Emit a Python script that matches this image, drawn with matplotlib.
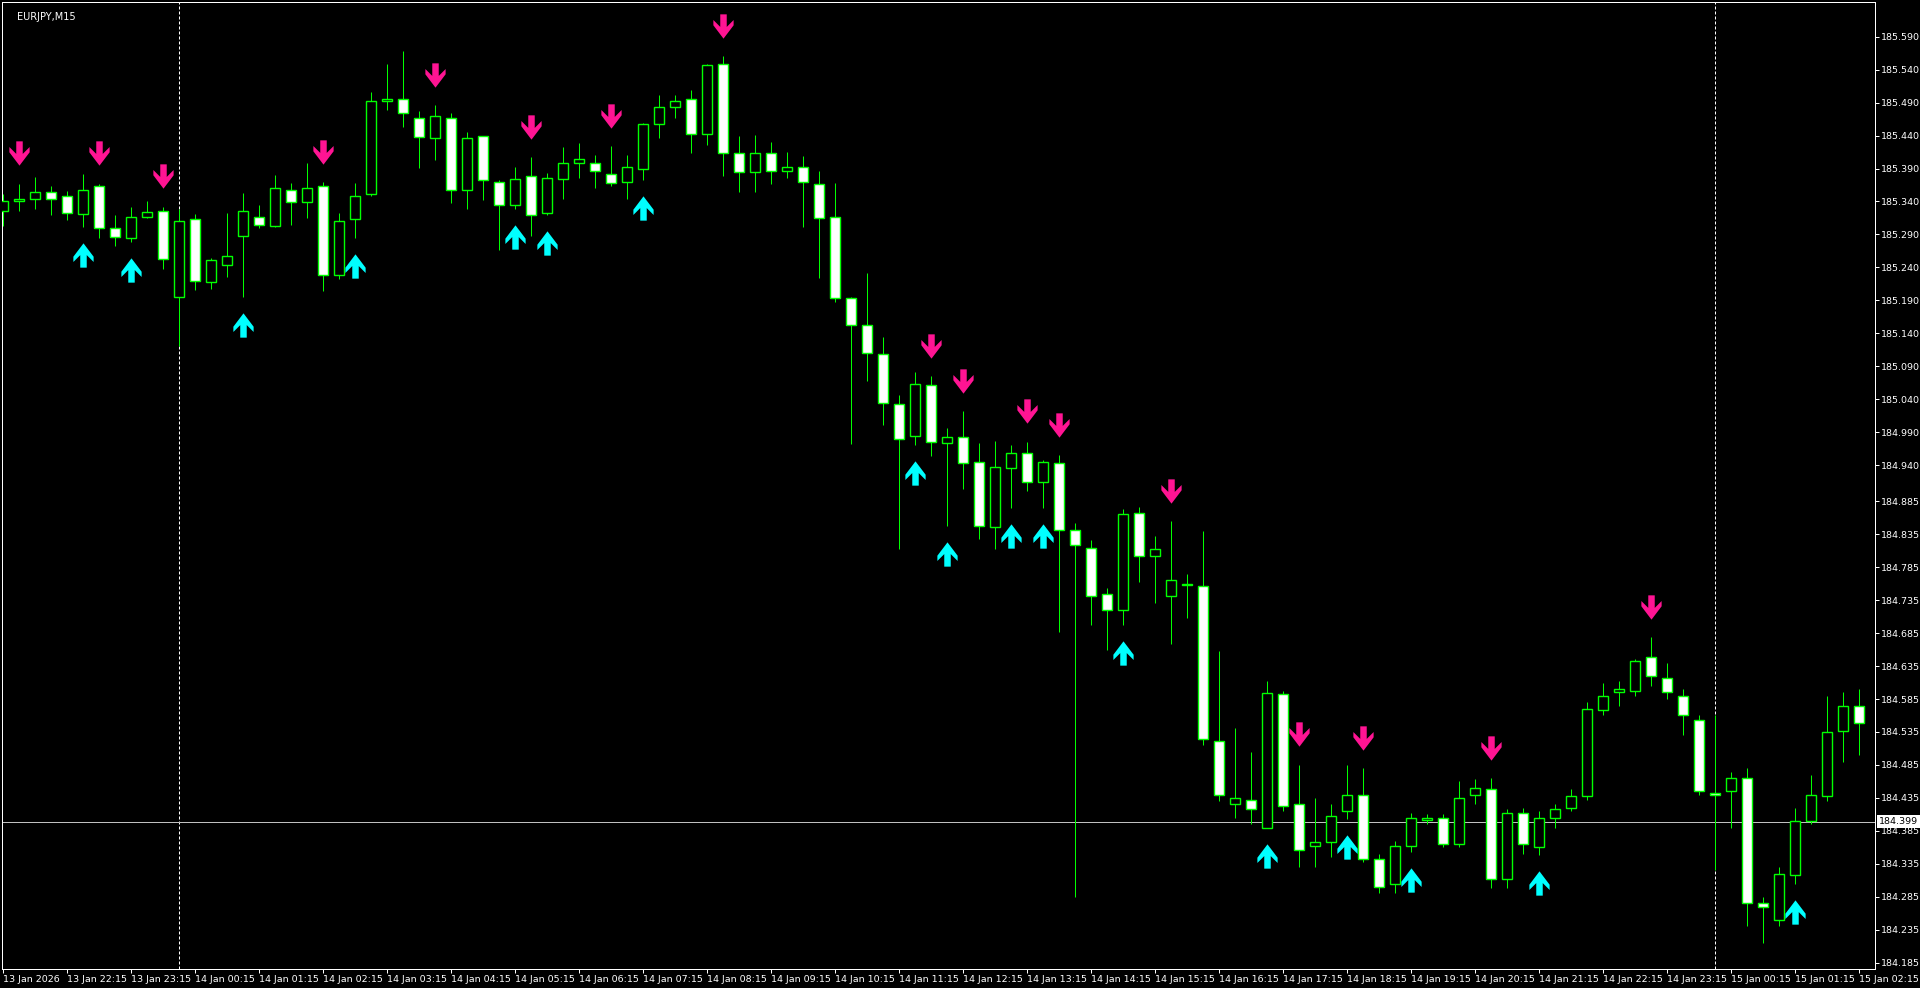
import matplotlib
matplotlib.use('Agg')
import matplotlib.pyplot as plt
import matplotlib.transforms as mtransforms
from matplotlib.patches import Rectangle
from matplotlib.path import Path
import pandas as pd

# Daten
symbol = "EURJPY,M15"
bar_times = pd.date_range("2026-01-13 21:15", periods=117, freq="15min")

opens = [185.326, 185.340, 185.343, 185.355, 185.349, 185.321, 185.363, 185.299, 185.284, 185.316,
         185.325, 185.195, 185.313, 185.218, 185.243, 185.287, 185.316, 185.303, 185.358, 185.339,
         185.363, 185.228, 185.313, 185.352, 185.493, 185.496, 185.466, 185.437, 185.466, 185.358,
         185.439, 185.370, 185.334, 185.378, 185.323, 185.374, 185.399, 185.399, 185.381, 185.369,
         185.390, 185.457, 185.483, 185.495, 185.443, 185.549, 185.413, 185.385, 185.414, 185.387,
         185.393, 185.366, 185.316, 185.193, 185.152, 185.108, 185.032, 184.984, 185.061, 184.973,
         184.982, 184.944, 184.846, 184.935, 184.959, 184.914, 184.943, 184.841, 184.814, 184.744,
         184.720, 184.867, 184.802, 184.741, 184.759, 184.757, 184.522, 184.425, 184.432, 184.390,
         184.592, 184.426, 184.362, 184.368, 184.415, 184.440, 184.342, 184.305, 184.362, 184.402,
         184.404, 184.365, 184.440, 184.449, 184.312, 184.412, 184.360, 184.405, 184.420, 184.438,
         184.568, 184.595, 184.597, 184.648, 184.617, 184.590, 184.553, 184.442, 184.445, 184.465,
         184.276, 184.250, 184.318, 184.400, 184.438, 184.536, 184.575]
highs = [185.352, 185.367, 185.377, 185.364, 185.356, 185.382, 185.367, 185.320, 185.332, 185.341,
         185.332, 185.329, 185.321, 185.254, 185.323, 185.353, 185.335, 185.380, 185.368, 185.398,
         185.369, 185.322, 185.368, 185.506, 185.549, 185.568, 185.477, 185.486, 185.475, 185.446,
         185.440, 185.373, 185.392, 185.407, 185.383, 185.423, 185.429, 185.411, 185.424, 185.411,
         185.459, 185.501, 185.501, 185.509, 185.548, 185.560, 185.440, 185.441, 185.430, 185.415,
         185.409, 185.386, 185.368, 185.195, 185.232, 185.134, 185.046, 185.081, 185.075, 184.997,
         185.022, 184.973, 184.976, 184.970, 184.975, 184.948, 184.955, 184.852, 184.826, 184.754,
         184.873, 184.876, 184.833, 184.855, 184.775, 184.840, 184.658, 184.541, 184.505, 184.612,
         184.597, 184.485, 184.435, 184.425, 184.485, 184.480, 184.350, 184.370, 184.412, 184.410,
         184.410, 184.460, 184.464, 184.465, 184.418, 184.420, 184.415, 184.425, 184.448, 184.580,
         184.610, 184.612, 184.645, 184.679, 184.640, 184.600, 184.560, 184.560, 184.475, 184.480,
         184.285, 184.330, 184.420, 184.470, 184.590, 184.595, 184.600]
lows = [185.303, 185.325, 185.328, 185.319, 185.312, 185.302, 185.284, 185.273, 185.278, 185.315,
        185.237, 185.120, 185.205, 185.207, 185.226, 185.195, 185.299, 185.301, 185.305, 185.315,
        185.204, 185.222, 185.285, 185.349, 185.479, 185.453, 185.391, 185.403, 185.337, 185.329,
        185.342, 185.267, 185.329, 185.287, 185.320, 185.343, 185.375, 185.361, 185.364, 185.343,
        185.373, 185.437, 185.466, 185.413, 185.425, 185.378, 185.355, 185.355, 185.367, 185.375,
        185.302, 185.224, 185.188, 184.972, 185.067, 185.001, 184.813, 184.971, 184.954, 184.847,
        184.904, 184.828, 184.813, 184.875, 184.901, 184.875, 184.687, 184.285, 184.698, 184.660,
        184.698, 184.763, 184.731, 184.669, 184.708, 184.515, 184.430, 184.405, 184.395, 184.390,
        184.415, 184.330, 184.330, 184.345, 184.403, 184.338, 184.290, 184.290, 184.353, 184.395,
        184.360, 184.360, 184.425, 184.298, 184.298, 184.350, 184.348, 184.390, 184.415, 184.432,
        184.560, 184.575, 184.590, 184.605, 184.585, 184.530, 184.440, 184.325, 184.390, 184.240,
        184.215, 184.240, 184.305, 184.395, 184.430, 184.490, 184.500]
closes = [185.341, 185.344, 185.354, 185.343, 185.322, 185.357, 185.299, 185.286, 185.316, 185.324,
          185.252, 185.311, 185.220, 185.251, 185.258, 185.325, 185.304, 185.360, 185.339, 185.361,
          185.228, 185.310, 185.349, 185.493, 185.496, 185.475, 185.438, 185.469, 185.357, 185.437,
          185.372, 185.334, 185.374, 185.320, 185.375, 185.399, 185.405, 185.387, 185.368, 185.392,
          185.457, 185.484, 185.493, 185.442, 185.547, 185.413, 185.385, 185.413, 185.387, 185.392,
          185.369, 185.315, 185.193, 185.152, 185.110, 185.034, 184.979, 185.063, 184.975, 184.982,
          184.943, 184.847, 184.937, 184.959, 184.914, 184.944, 184.842, 184.818, 184.742, 184.720,
          184.865, 184.802, 184.812, 184.765, 184.758, 184.524, 184.439, 184.435, 184.418, 184.594,
          184.423, 184.356, 184.368, 184.408, 184.440, 184.342, 184.300, 184.362, 184.405, 184.404,
          184.365, 184.435, 184.450, 184.312, 184.412, 184.365, 184.405, 184.418, 184.438, 184.570,
          184.590, 184.600, 184.642, 184.620, 184.595, 184.560, 184.445, 184.440, 184.465, 184.275,
          184.270, 184.320, 184.400, 184.440, 184.535, 184.575, 184.548]

# Signale (Index der Kerze)
sell_bars = [1, 6, 10, 20, 27, 33, 38, 45, 58, 60, 64, 66, 73, 81, 85, 93, 103]
buy_bars = [5, 8, 15, 22, 32, 34, 40, 57, 59, 63, 65, 70, 79, 84, 88, 96, 112]

hline_price = 184.399
price_ticks = [185.590, 185.540, 185.490, 185.440, 185.390, 185.340, 185.290, 185.240, 185.190,
               185.140, 185.090, 185.040, 184.990, 184.940, 184.885, 184.835, 184.785, 184.735,
               184.685, 184.635, 184.585, 184.535, 184.485, 184.435, 184.385, 184.335, 184.285,
               184.235, 184.185]

# Barvy / styl
bg = 'black'
candle_col = '#00FF00'
sell_col = '#FF1493'
buy_col = '#00FFFF'
font = 'DejaVu Sans'

W, H = 1920, 988
fig = plt.figure(figsize=(W / 100, H / 100), dpi=100, facecolor=bg)
ax = fig.add_axes([2 / W, 19 / H, 1873 / W, 967 / H], facecolor=bg)

px = 0.72  # 1 pixel v bodech
body_w = 0.625

for i in range(len(opens)):
    o, h, l, c = opens[i], highs[i], lows[i], closes[i]
    ax.plot([i, i], [l, h], color=candle_col, lw=px, zorder=2, solid_capstyle='butt')
    if abs(c - o) < 0.0005:
        ax.plot([i - body_w / 2, i + body_w / 2], [o, o], color=candle_col, lw=px * 2, zorder=3)
        continue
    fill = 'white' if c < o else 'black'
    ax.add_patch(Rectangle((i - body_w / 2, min(o, c)), body_w, abs(c - o),
                           facecolor=fill, edgecolor=candle_col, lw=px * 1.4, zorder=3))

# Šipky (Wingdings styl)
down_verts = [(-0.16, 0.6), (0.16, 0.6), (0.16, -0.02), (0.5, 0.32), (0.5, 0.06), (0.0, -0.6),
              (-0.5, 0.06), (-0.5, 0.32), (-0.16, -0.02), (-0.16, 0.6)]
up_verts = [(x, -y) for x, y in down_verts]
down_marker = Path(down_verts, closed=True)
up_marker = Path(up_verts, closed=True)

off_sell = 0.0463
off_buy = 0.0425
ax.plot(sell_bars, [highs[i] + off_sell for i in sell_bars], ls='none', marker=down_marker,
        markersize=17.5, color=sell_col, markeredgewidth=0, zorder=4)
ax.plot(buy_bars, [lows[i] - off_buy for i in buy_bars], ls='none', marker=up_marker,
        markersize=17.5, color=buy_col, markeredgewidth=0, zorder=4)

# Oddělovače dní
for i, t in enumerate(bar_times):
    if t.hour == 0 and t.minute == 0:
        ax.axvline(i, color='white', lw=px, ls=(0, (3, 2)), zorder=1)

# Horizontální čára
ax.axhline(hline_price, color='#C0C0C0', lw=px, zorder=1)
trans = mtransforms.blended_transform_factory(ax.transAxes, ax.transData)
ax.text(1.002, hline_price, f'{hline_price:.3f}', transform=trans, ha='left', va='center',
        fontsize=6.8, family=font, color='black', zorder=5, clip_on=False,
        bbox=dict(boxstyle='square,pad=0.18', facecolor='white', edgecolor='none'))

ax.set_xlim(-0.0625, 117.0)
ax.set_ylim(184.1753, 185.6427)

# Osy
ax.yaxis.tick_right()
ax.set_yticks(price_ticks)
ax.set_yticklabels([f'{p:.3f}' for p in price_ticks])
tick_idx = [0] + list(range(4, len(bar_times), 4))
tick_lbl = [bar_times[0].strftime('%d %b %Y')] + [bar_times[i].strftime('%d %b %H:%M') for i in tick_idx[1:]]
ax.set_xticks(tick_idx)
ax.set_xticklabels(tick_lbl)
for lab in ax.get_xticklabels():
    lab.set_horizontalalignment('left')
ax.tick_params(axis='both', colors='white', labelcolor='white', labelsize=6.8, length=3, width=px, pad=1.5)
for lab in ax.get_xticklabels() + ax.get_yticklabels():
    lab.set_family(font)
for sp in ax.spines.values():
    sp.set_color('white')
    sp.set_linewidth(px)

ax.text(0.008, 0.99, symbol, transform=ax.transAxes, ha='left', va='top', fontsize=7,
        family=font, color='white')

fig.savefig('out.png', dpi=100, facecolor=bg)
